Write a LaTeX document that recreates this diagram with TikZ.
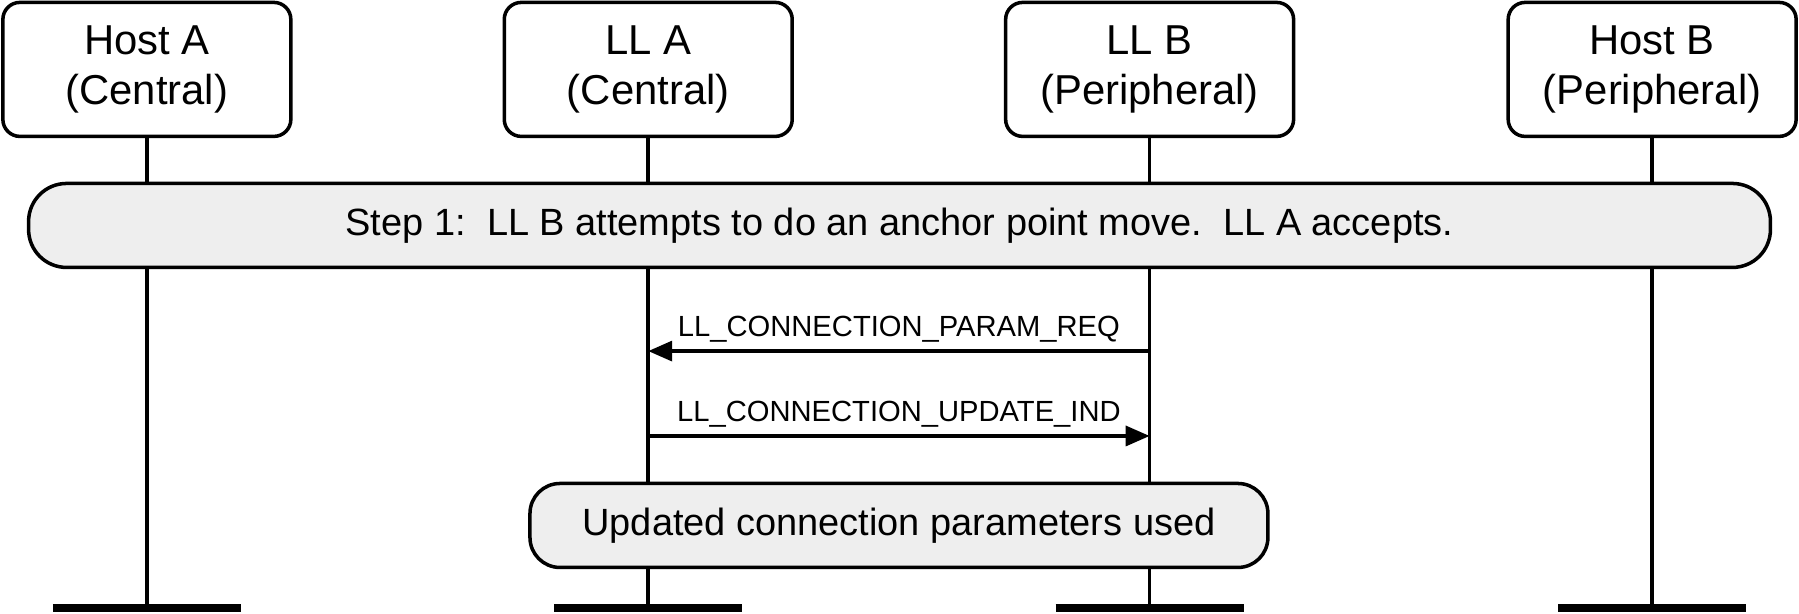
\documentclass[tikz,border=0pt]{standalone}
\usepackage{fontspec}
\setmainfont{Liberation Sans}
\usetikzlibrary{arrows.meta, positioning, calc}

\tikzset{
    actor/.style={draw, line width=1pt, rounded corners=0.17cm, fill=white,
        minimum width=2.88cm, minimum height=1.34cm, align=center, font=\fontsize{11.9}{14}\selectfont},
    band/.style={draw, line width=1pt, rounded corners=0.38cm, fill=gray!13,
        minimum height=0.84cm, font=\fontsize{10.8}{12}\selectfont},
    lifeline/.style={line width=1pt},
    foot/.style={line width=2.2pt},
    msg/.style={line width=1pt, -{Triangle[length=0.24cm, width=0.2cm]}},
    msglabel/.style={font=\fontsize{8.3}{9}\selectfont, above, inner sep=2pt}
}

\begin{document}
\begin{tikzpicture}[x=0.011474cm, y=-0.011474cm]
    \useasboundingbox (0,0) rectangle (1568,535);

    % Acteurs
    \node[actor] (hostA) at (128,60.5) {Host A\\(Central)};
    \node[actor] (llA) at (565,60.5) {LL A\\(Central)};
    \node[actor] (llB) at (1002,60.5) {LL B\\(Peripheral)};
    \node[actor] (hostB) at (1440,60.5) {Host B\\(Peripheral)};

    % Lignes de vie
    \foreach \a/\x in {hostA/128, llA/565, llB/1002, hostB/1440} {
        \coordinate (\a-end) at (\x,530);
        \draw[lifeline] (\a.south) -- (\a-end);
        \draw[foot] ($(\a-end)+(-82,0)$) -- ($(\a-end)+(82,0)$);
    }

    % Etape 1
    \node[band, minimum width=17.42cm] (step) at (784,196.5)
        {Step 1:\ \ LL B attempts to do an anchor point move.\ \ LL A accepts.};

    % Messages
    \coordinate (reqB) at (1002,306);
    \coordinate (reqA) at (565,306);
    \coordinate (updA) at (565,380);
    \coordinate (updB) at (1002,380);
    \draw[msg] (reqB) -- node[msglabel] {LL\_CONNECTION\_PARAM\_REQ} (reqA);
    \draw[msg] (updA) -- node[msglabel] {LL\_CONNECTION\_UPDATE\_IND} (updB);

    % Resultat
    \node[band, minimum width=7.38cm, rounded corners=0.3cm] (used) at (783.5,458)
        {Updated connection parameters used};
\end{tikzpicture}
\end{document}
